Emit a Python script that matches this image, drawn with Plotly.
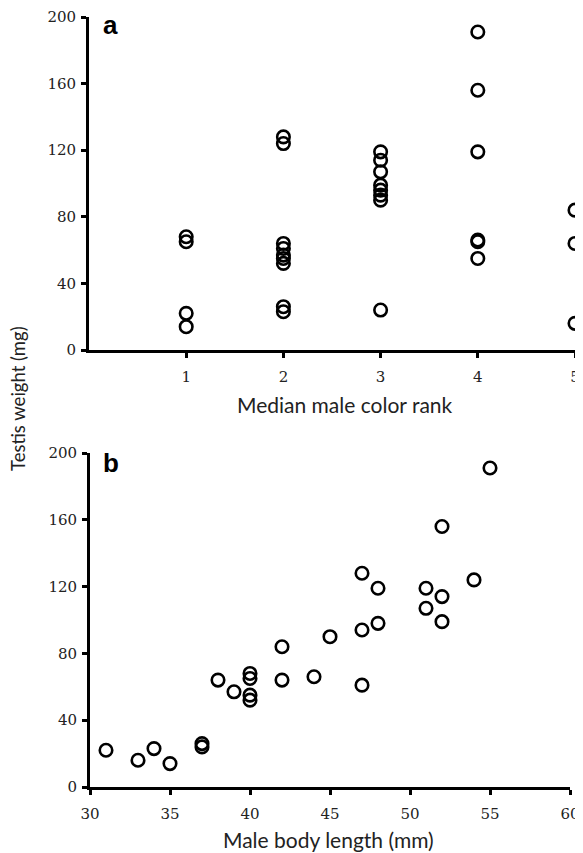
import plotly.graph_objects as go

# Panel a: median male color rank vs testis weight
rank_x = [1, 1, 1, 1,
          2, 2, 2, 2, 2, 2, 2, 2, 2,
          3, 3, 3, 3, 3, 3, 3, 3,
          4, 4, 4, 4, 4, 4,
          5, 5, 5]
rank_y = [68, 65, 22, 14,
          128, 124, 64, 61, 57, 55, 52, 26, 23,
          119, 114, 107, 99, 96, 93, 90, 24,
          191, 156, 119, 66, 65, 55,
          84, 64, 16]

# Panel b: male body length vs testis weight
length_x = [31, 33, 34, 35, 37, 37, 38, 39, 40, 40, 40, 40, 42, 42,
            44, 45, 47, 47, 47, 48, 48, 51, 51, 52, 52, 52, 54, 55]
length_y = [22, 16, 23, 14, 26, 24, 64, 57, 68, 65, 55, 52, 84, 64,
            66, 90, 128, 94, 61, 119, 98, 119, 107, 156, 114, 99, 124, 191]

a_xticks = [1, 2, 3, 4, 5]
b_xticks = [30, 35, 40, 45, 50, 55, 60]
yticks = [0, 40, 80, 120, 160, 200]

# page has an 8px body margin; figure sized to fit the window
OFF = 8
W, H = 583 - OFF, 853 - OFF


def px(x):
    return (x - OFF) / W


def py(y):
    return 1 - (y - OFF) / H


marker = dict(symbol="circle-open", size=12.5, color="black",
              line=dict(width=2.6, color="black"))

fig = go.Figure()
fig.add_trace(go.Scatter(x=rank_x, y=rank_y, mode="markers", marker=marker,
                         xaxis="x", yaxis="y", cliponaxis=False, showlegend=False))
fig.add_trace(go.Scatter(x=length_x, y=length_y, mode="markers", marker=marker,
                         xaxis="x2", yaxis="y2", cliponaxis=False, showlegend=False))

tickfont = dict(family="DejaVu Serif", size=15, color="#222")
axis_common = dict(showgrid=False, zeroline=False, showline=True, linecolor="black",
                   linewidth=2.8, ticks="outside", ticklen=5, tickwidth=2.5,
                   tickcolor="black", tickfont=tickfont, automargin=False)

fig.update_layout(
    template="none",
    width=W, height=H,
    margin=dict(l=0, r=0, t=0, b=0),
    paper_bgcolor="white", plot_bgcolor="white",
    xaxis=dict(axis_common, domain=[px(89), px(575)], range=[0, 5],
               tickvals=a_xticks, anchor="y", ticklabelstandoff=6),
    yaxis=dict(axis_common, domain=[py(350), py(17)], range=[0, 200],
               tickvals=yticks, anchor="x", ticklabelstandoff=2),
    xaxis2=dict(axis_common, domain=[px(90), px(570)], range=[30, 60],
                tickvals=b_xticks, anchor="y2", ticklabelstandoff=6),
    yaxis2=dict(axis_common, domain=[py(787), py(453)], range=[0, 200],
                tickvals=yticks, anchor="x2", ticklabelstandoff=2),
)

title_font = dict(family="Lato", size=21, color="#222")
fig.add_annotation(text="Median male color rank", x=px(345), y=py(404),
                   xref="paper", yref="paper", showarrow=False, font=title_font,
                   xanchor="center", yanchor="middle")
fig.add_annotation(text="Male body length (mm)", x=px(328), y=py(839),
                   xref="paper", yref="paper", showarrow=False, font=title_font,
                   xanchor="center", yanchor="middle")
fig.add_annotation(text="Testis weight (mg)", x=px(18), y=py(399),
                   xref="paper", yref="paper", showarrow=False,
                   font=dict(family="Lato", size=18.5, color="#222"),
                   textangle=-90, xanchor="center", yanchor="middle")
label_font = dict(family="Liberation Sans", size=26, color="black")
fig.add_annotation(text="<b>a</b>", x=px(101), y=py(25), xref="paper", yref="paper",
                   showarrow=False, font=label_font, xanchor="left", yanchor="middle")
fig.add_annotation(text="<b>b</b>", x=px(101), y=py(463), xref="paper", yref="paper",
                   showarrow=False, font=label_font, xanchor="left", yanchor="middle")

fig.write_html("out.html")
